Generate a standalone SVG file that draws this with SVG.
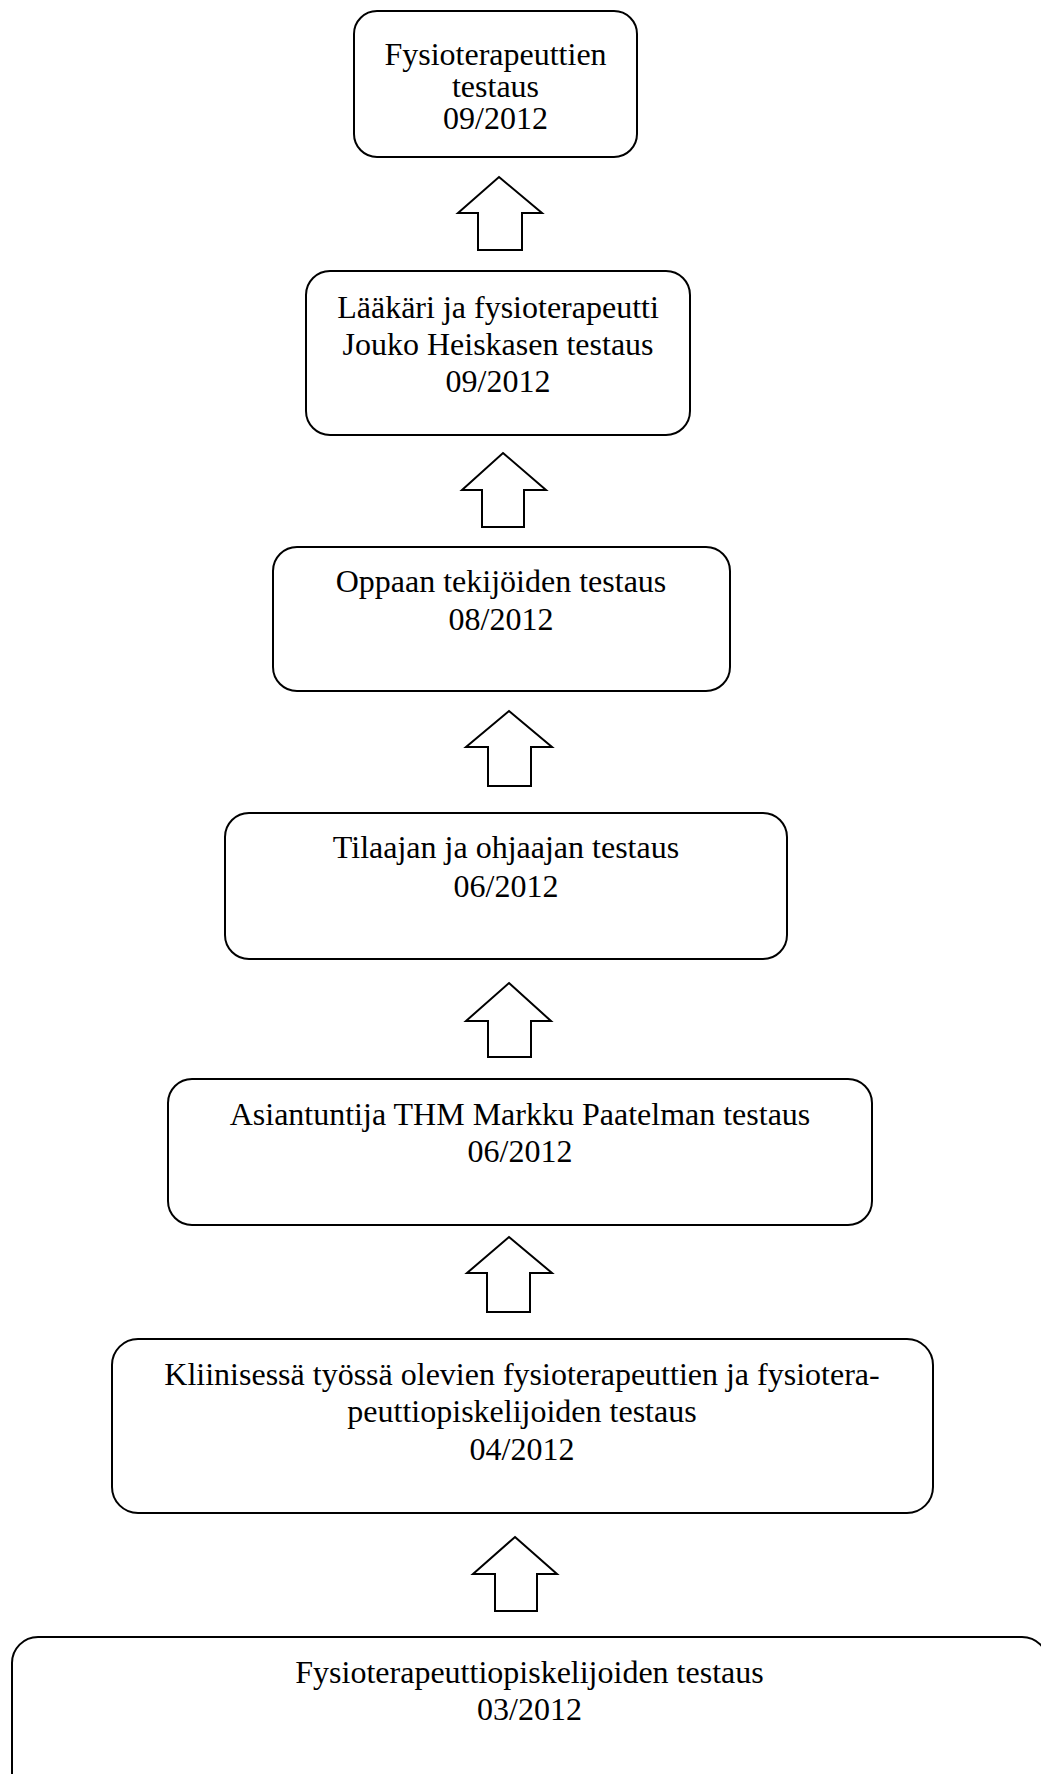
<svg xmlns="http://www.w3.org/2000/svg" width="1041" height="1774" viewBox="0 0 1041 1774">
<style>
.box{fill:#fff;stroke:#000;stroke-width:2}
.arr{fill:#fff;stroke:#000;stroke-width:2;stroke-linejoin:miter}
text{font-family:"Liberation Serif","Times New Roman",serif;font-size:32px;fill:#000;text-anchor:middle}
</style>
<rect width="1041" height="1774" fill="#fff"/>
<g id="connectors">
<polygon class="arr" points="499,177 542,213 522,213 522,250 478,250 478,213 458,213"/>
<polygon class="arr" points="503,453 546,490 524,490 524,527 482,527 482,490 462,490"/>
<polygon class="arr" points="509,711 552,747 531,747 531,786 488,786 488,747 466,747"/>
<polygon class="arr" points="509,983 551,1021 531,1021 531,1057 488,1057 488,1021 466,1021"/>
<polygon class="arr" points="509,1237 552,1273 530,1273 530,1312 487,1312 487,1273 467,1273"/>
<polygon class="arr" points="515,1537 557,1574 537,1574 537,1611 495,1611 495,1574 473,1574"/>
</g>
<g id="n1">
<rect class="box" x="354" y="11" width="283" height="146" rx="23"/>
<text x="495.5" y="65">Fysioterapeuttien</text>
<text x="495.5" y="97">testaus</text>
<text x="495.5" y="129">09/2012</text>
</g>
<g id="n2">
<rect class="box" x="306" y="271" width="384" height="164" rx="24"/>
<text x="498" y="318">Lääkäri ja fysioterapeutti</text>
<text x="498" y="355">Jouko Heiskasen testaus</text>
<text x="498" y="392">09/2012</text>
</g>
<g id="n3">
<rect class="box" x="273" y="547" width="457" height="144" rx="24"/>
<text x="501" y="592">Oppaan tekijöiden testaus</text>
<text x="501" y="630">08/2012</text>
</g>
<g id="n4">
<rect class="box" x="225" y="813" width="562" height="146" rx="24"/>
<text x="506" y="858">Tilaajan ja ohjaajan testaus</text>
<text x="506" y="897">06/2012</text>
</g>
<g id="n5">
<rect class="box" x="168" y="1079" width="704" height="146" rx="24"/>
<text x="520" y="1125">Asiantuntija THM Markku Paatelman testaus</text>
<text x="520" y="1162">06/2012</text>
</g>
<g id="n6">
<rect class="box" x="112" y="1339" width="821" height="174" rx="26"/>
<text x="522" y="1385">Kliinisessä työssä olevien fysioterapeuttien ja fysiotera-</text>
<text x="522" y="1422">peuttiopiskelijoiden testaus</text>
<text x="522" y="1460">04/2012</text>
</g>
<g id="n7">
<rect class="box" x="12" y="1637" width="1036" height="170" rx="26"/>
<text x="529.5" y="1683">Fysioterapeuttiopiskelijoiden testaus</text>
<text x="529.5" y="1720">03/2012</text>
</g>
</svg>
